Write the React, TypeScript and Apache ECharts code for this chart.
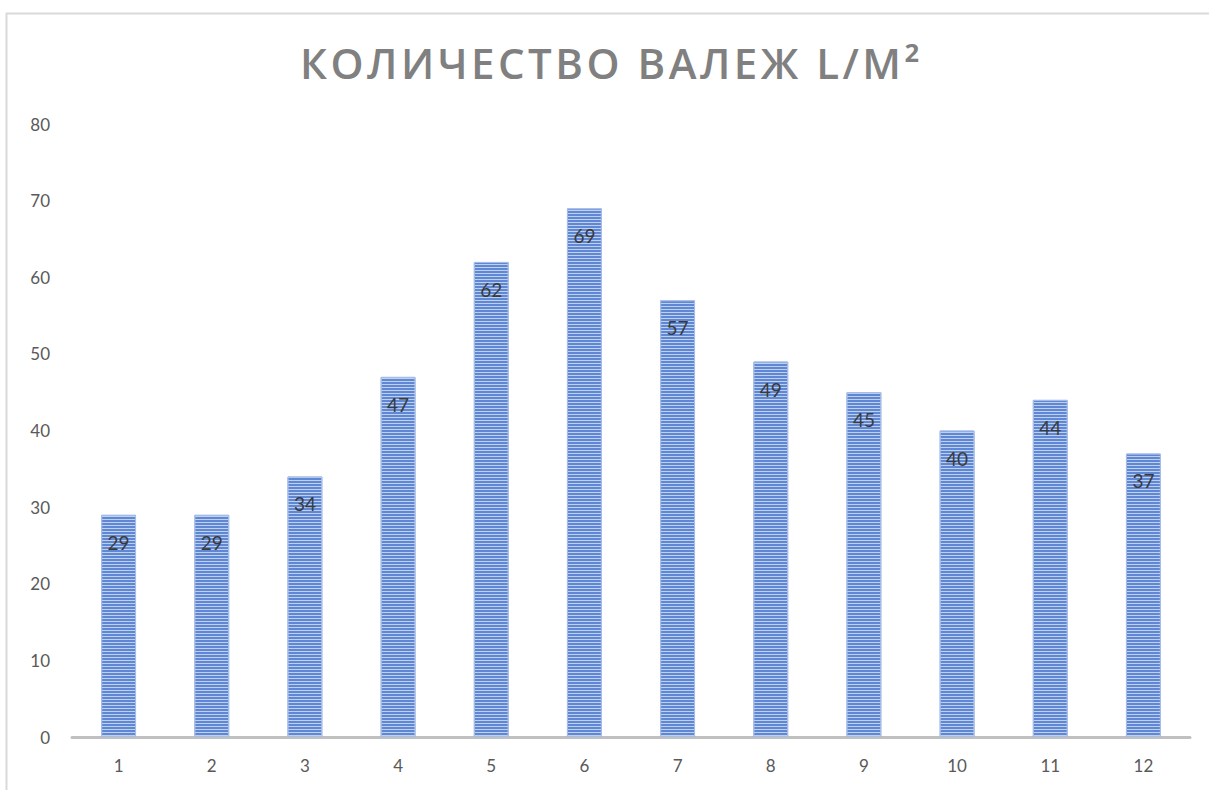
import React, { useEffect, useRef } from "react";
import * as echarts from "echarts";

const title = "КОЛИЧЕСТВО ВАЛЕЖ L/M²";
const months = ["1", "2", "3", "4", "5", "6", "7", "8", "9", "10", "11", "12"];
const rainfall = [29, 29, 34, 47, 62, 69, 57, 49, 45, 40, 44, 37];
const yTicks = { min: 0, max: 80, interval: 10 };

const css = `
#root svg text[fill="#808080"], #root svg text[style*="42px"] { letter-spacing: 3.5px; }
`;

export default function App() {
  const ref = useRef<HTMLDivElement>(null);
  useEffect(() => {
    if (!ref.current) return;
    const chart = echarts.init(ref.current, null, { renderer: "svg" });
    chart.setOption({
      animation: false,
      backgroundColor: "#ffffff",
      title: {
        text: title,
        left: 300,
        top: 41,
        padding: 0,
        textStyle: {
          fontFamily: "Open Sans",
          fontWeight: 600,
          fontSize: 42,
          color: "#808080",
        },
      },
      graphic: [
        {
          type: "rect",
          shape: { x: 6.5, y: 13.5, width: 1260, height: 820 },
          style: { fill: "none", stroke: "#d9d9d9", lineWidth: 2 },
          silent: true,
          z: -1,
        },
      ],
      grid: { left: 72, right: 19, top: 124, bottom: 53 },
      xAxis: {
        type: "category",
        data: months,
        axisLine: { show: true, lineStyle: { color: "#c0c0c0", width: 3 } },
        axisTick: { show: false },
        axisLabel: {
          margin: 20,
          fontFamily: "Lato",
          fontSize: 17,
          color: "#595959",
        },
      },
      yAxis: {
        type: "value",
        min: yTicks.min,
        max: yTicks.max,
        interval: yTicks.interval,
        axisLine: { show: false },
        axisTick: { show: false },
        splitLine: { show: false },
        axisLabel: {
          margin: 22,
          fontFamily: "Lato",
          fontSize: 17,
          color: "#595959",
        },
      },
      series: [
        {
          type: "bar",
          data: rainfall,
          barWidth: "37.5%",
          itemStyle: {
            color: "#5f87d3",
            borderColor: "#a5bce6",
            borderWidth: 1,
            decal: {
              symbol: "rect",
              symbolSize: 1,
              color: "rgba(198,214,242,0.92)",
              dashArrayX: [1, 0],
              dashArrayY: [1, 2],
              rotation: 0,
            },
          },
          label: {
            show: true,
            position: "insideTop",
            distance: 18,
            fontFamily: "Lato",
            fontSize: 19,
            color: "#3a3a3a",
          },
        },
      ],
    });
    return () => chart.dispose();
  }, []);
  return (
    <>
      <style>{css}</style>
      <div
        ref={ref}
        style={{ position: "absolute", left: 0, top: 0, width: 1209, height: 790 }}
      />
    </>
  );
}
